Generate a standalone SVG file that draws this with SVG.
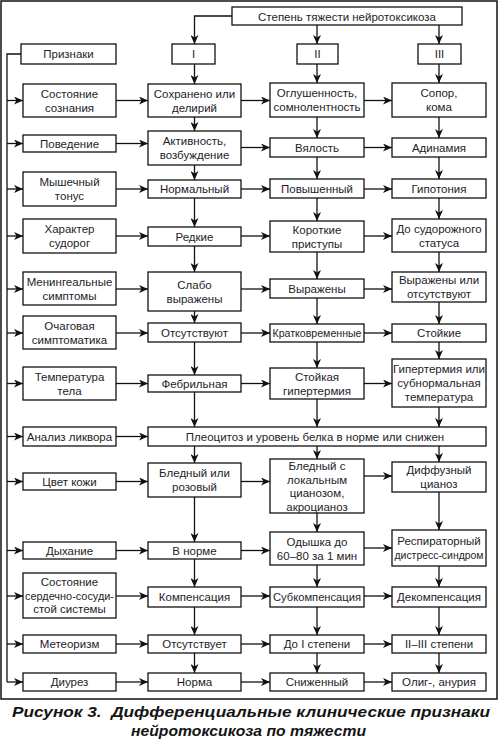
<svg xmlns="http://www.w3.org/2000/svg" width="499" height="740" viewBox="0 0 499 740">
<defs>
<marker id="ah" markerUnits="userSpaceOnUse" markerWidth="9" markerHeight="8" refX="9" refY="4" orient="auto">
<path d="M0,0 L9,4 L0,8 L2.5,4 z" fill="#111"/>
</marker>
<style>
.b{fill:#fff;stroke:#111;stroke-width:1.3}
.t{font-family:"Liberation Sans",Arial,sans-serif;font-size:11.5px;text-anchor:middle;fill:#1d1d28}
.c{fill:none;stroke:#111;stroke-width:1.3}
.a{fill:none;stroke:#111;stroke-width:1.3;marker-end:url(#ah)}
.cap{font-family:"Liberation Sans",Arial,sans-serif;font-size:15.5px;font-weight:bold;font-style:italic;fill:#141414}
</style>
</defs>
<rect x="0" y="0" width="499" height="740" fill="#fff"/>
<rect x="1" y="1" width="496" height="698" fill="none" stroke="#111" stroke-width="1.5"/>

<g id="connectors">
<path class="c" d="M21 54 H7 V682"/>
<path class="a" d="M7 682 H23"/>
<path class="a" d="M232 16 H194.5 V44"/>
<path class="a" d="M317 25 V44"/>
<path class="a" d="M439 25 V44"/>
<path class="a" d="M7 100.5 H23"/>
<path class="a" d="M7 143.5 H23"/>
<path class="a" d="M7 189 H23"/>
<path class="a" d="M7 236 H23"/>
<path class="a" d="M7 289 H23"/>
<path class="a" d="M7 333 H23"/>
<path class="a" d="M7 383.5 H23"/>
<path class="a" d="M7 436.5 H23"/>
<path class="a" d="M7 481.5 H23"/>
<path class="a" d="M7 550.5 H23"/>
<path class="a" d="M7 596 H23"/>
<path class="a" d="M7 644 H23"/>
<path class="a" d="M116 100.5 H148"/><path class="a" d="M241 100.5 H270"/><path class="a" d="M364 100.5 H392"/>
<path class="a" d="M116 143.5 H148"/><path class="a" d="M241 147.5 H270"/><path class="a" d="M364 147.5 H392"/>
<path class="a" d="M116 189 H148"/><path class="a" d="M241 189 H270"/><path class="a" d="M364 189 H392"/>
<path class="a" d="M116 236 H148"/><path class="a" d="M241 236 H270"/><path class="a" d="M364 236 H392"/>
<path class="a" d="M116 289 H148"/><path class="a" d="M241 289 H270"/><path class="a" d="M364 289 H392"/>
<path class="a" d="M116 333 H148"/><path class="a" d="M241 333 H270"/><path class="a" d="M364 333 H392"/>
<path class="a" d="M116 383.5 H148"/><path class="a" d="M241 383.5 H270"/><path class="a" d="M364 383.5 H392"/>
<path class="a" d="M116 436.5 H148"/>
<path class="a" d="M116 481.5 H148"/><path class="a" d="M241 481.5 H270"/><path class="a" d="M364 476 H392"/>
<path class="a" d="M116 550.5 H148"/><path class="a" d="M241 550.5 H270"/><path class="a" d="M364 548 H392"/>
<path class="a" d="M116 596 H148"/><path class="a" d="M241 596 H270"/><path class="a" d="M364 596 H392"/>
<path class="a" d="M116 644 H148"/><path class="a" d="M241 644 H270"/><path class="a" d="M364 644 H392"/>
<path class="a" d="M116 682 H148"/><path class="a" d="M241 682 H270"/><path class="a" d="M364 682 H392"/>
<path class="a" d="M194.5 64 V84"/><path class="a" d="M194.5 117 V131"/><path class="a" d="M194.5 165 V180"/>
<path class="a" d="M194.5 198 V227"/><path class="a" d="M194.5 246 V272"/><path class="a" d="M194.5 311 V323"/>
<path class="a" d="M194.5 342 V375"/><path class="a" d="M194.5 392 V427"/><path class="a" d="M194.5 446 V463"/>
<path class="a" d="M194.5 497 V542"/><path class="a" d="M194.5 559 V587"/><path class="a" d="M194.5 607 V635"/>
<path class="a" d="M194.5 653 V673"/>
<path class="a" d="M317 64 V83"/><path class="a" d="M317 117 V138"/><path class="a" d="M317 157 V179"/>
<path class="a" d="M317 198 V221"/><path class="a" d="M317 252 V279"/><path class="a" d="M317 298 V324"/>
<path class="a" d="M317 342 V368"/><path class="a" d="M317 399 V427"/><path class="a" d="M317 446 V459"/>
<path class="a" d="M317 513 V532"/><path class="a" d="M317 565 V587"/><path class="a" d="M317 607 V635"/>
<path class="a" d="M317 653 V673"/>
<path class="a" d="M439 64 V83"/><path class="a" d="M439 117 V138"/><path class="a" d="M439 157 V179"/>
<path class="a" d="M439 198 V219"/><path class="a" d="M439 252 V272"/><path class="a" d="M439 302 V324"/>
<path class="a" d="M439 342 V359"/><path class="a" d="M439 407 V427"/><path class="a" d="M439 446 V462"/>
<path class="a" d="M439 492 V530"/><path class="a" d="M439 566 V587"/><path class="a" d="M439 607 V635"/>
<path class="a" d="M439 653 V673"/>
</g>

<g id="n-top"><rect class="b" x="232" y="7" width="230" height="18"/><text class="t" x="347" y="20.5">Степень тяжести нейротоксикоза</text></g>
<g id="n-priznaki"><rect class="b" x="21" y="44" width="95" height="20"/><text class="t" x="68.5" y="58">Признаки</text></g>
<g id="n-I"><rect class="b" x="172" y="44" width="43" height="20"/><text class="t" x="193.5" y="58">I</text></g>
<g id="n-II"><rect class="b" x="297" y="44" width="41" height="20"/><text class="t" x="317.5" y="58">II</text></g>
<g id="n-III"><rect class="b" x="418" y="44" width="43" height="20"/><text class="t" x="439.5" y="58">III</text></g>

<g id="l1"><rect class="b" x="23" y="84" width="93" height="33"/><text class="t" x="69.5" y="97.5">Состояние</text><text class="t" x="69.5" y="111.5">сознания</text></g>
<g id="l2"><rect class="b" x="23" y="135" width="93" height="17"/><text class="t" x="69.5" y="147.5">Поведение</text></g>
<g id="l3"><rect class="b" x="23" y="172" width="93" height="34"/><text class="t" x="69.5" y="186">Мышечный</text><text class="t" x="69.5" y="200">тонус</text></g>
<g id="l4"><rect class="b" x="23" y="219" width="93" height="34"/><text class="t" x="69.5" y="233">Характер</text><text class="t" x="69.5" y="247">судорог</text></g>
<g id="l5"><rect class="b" x="23" y="272" width="93" height="33"/><text class="t" x="69.5" y="285.5">Менингеальные</text><text class="t" x="69.5" y="299.5">симптомы</text></g>
<g id="l6"><rect class="b" x="23" y="316" width="93" height="33"/><text class="t" x="69.5" y="329.5">Очаговая</text><text class="t" x="69.5" y="343.5">симптоматика</text></g>
<g id="l7"><rect class="b" x="23" y="367" width="93" height="33"/><text class="t" x="69.5" y="380.5">Температура</text><text class="t" x="69.5" y="394.5">тела</text></g>
<g id="l8"><rect class="b" x="23" y="427" width="93" height="19"/><text class="t" x="69.5" y="440.5">Анализ ликвора</text></g>
<g id="l9"><rect class="b" x="23" y="473" width="93" height="17"/><text class="t" x="69.5" y="485.5">Цвет кожи</text></g>
<g id="l10"><rect class="b" x="23" y="542" width="93" height="17"/><text class="t" x="69.5" y="554.5">Дыхание</text></g>
<g id="l11"><rect class="b" x="23" y="573" width="93" height="45"/><text class="t" x="69.5" y="586">Состояние</text><text class="t" x="69.5" y="599.5" textLength="89" lengthAdjust="spacingAndGlyphs">сердечно-сосуди-</text><text class="t" x="69.5" y="613">стой системы</text></g>
<g id="l12"><rect class="b" x="23" y="635" width="93" height="18"/><text class="t" x="69.5" y="648">Метеоризм</text></g>
<g id="l13"><rect class="b" x="23" y="673" width="93" height="18"/><text class="t" x="69.5" y="686">Диурез</text></g>

<g id="c1-1"><rect class="b" x="148" y="84" width="93" height="33"/><text class="t" x="194.5" y="97.5">Сохранено или</text><text class="t" x="194.5" y="111.5">делирий</text></g>
<g id="c1-2"><rect class="b" x="148" y="131" width="93" height="34"/><text class="t" x="194.5" y="145">Активность,</text><text class="t" x="194.5" y="159">возбуждение</text></g>
<g id="c1-3"><rect class="b" x="148" y="180" width="93" height="18"/><text class="t" x="194.5" y="193">Нормальный</text></g>
<g id="c1-4"><rect class="b" x="148" y="227" width="93" height="19"/><text class="t" x="194.5" y="240.5">Редкие</text></g>
<g id="c1-5"><rect class="b" x="148" y="272" width="93" height="39"/><text class="t" x="194.5" y="288.5">Слабо</text><text class="t" x="194.5" y="302.5">выражены</text></g>
<g id="c1-6"><rect class="b" x="148" y="323" width="93" height="19"/><text class="t" x="194.5" y="337">Отсутствуют</text></g>
<g id="c1-7"><rect class="b" x="148" y="375" width="93" height="17"/><text class="t" x="194.5" y="387.5">Фебрильная</text></g>
<g id="c-8"><rect class="b" x="148" y="427" width="338" height="19"/><text class="t" x="315" y="440.5">Плеоцитоз и уровень белка в норме или снижен</text></g>
<g id="c1-9"><rect class="b" x="148" y="463" width="93" height="34"/><text class="t" x="194.5" y="477">Бледный или</text><text class="t" x="194.5" y="491">розовый</text></g>
<g id="c1-10"><rect class="b" x="148" y="542" width="93" height="17"/><text class="t" x="194.5" y="554.5">В норме</text></g>
<g id="c1-11"><rect class="b" x="148" y="587" width="93" height="20"/><text class="t" x="194.5" y="601">Компенсация</text></g>
<g id="c1-12"><rect class="b" x="148" y="635" width="93" height="18"/><text class="t" x="194.5" y="648">Отсутствует</text></g>
<g id="c1-13"><rect class="b" x="148" y="673" width="93" height="18"/><text class="t" x="194.5" y="686">Норма</text></g>

<g id="c2-1"><rect class="b" x="270" y="83" width="94" height="34"/><text class="t" x="317" y="97">Оглушенность,</text><text class="t" x="317" y="111">сомнолентность</text></g>
<g id="c2-2"><rect class="b" x="270" y="138" width="94" height="19"/><text class="t" x="317" y="151.5">Вялость</text></g>
<g id="c2-3"><rect class="b" x="270" y="179" width="94" height="19"/><text class="t" x="317" y="193">Повышенный</text></g>
<g id="c2-4"><rect class="b" x="270" y="221" width="94" height="31"/><text class="t" x="317" y="233.5">Короткие</text><text class="t" x="317" y="247.5">приступы</text></g>
<g id="c2-5"><rect class="b" x="270" y="279" width="94" height="19"/><text class="t" x="317" y="292.5">Выражены</text></g>
<g id="c2-6"><rect class="b" x="270" y="324" width="94" height="18"/><text class="t" x="317" y="337" textLength="89" lengthAdjust="spacingAndGlyphs">Кратковременные</text></g>
<g id="c2-7"><rect class="b" x="270" y="368" width="94" height="31"/><text class="t" x="317" y="380.5">Стойкая</text><text class="t" x="317" y="394.5">гипертермия</text></g>
<g id="c2-9"><rect class="b" x="270" y="459" width="94" height="54"/><text class="t" x="317" y="470">Бледный с</text><text class="t" x="317" y="483.5">локальным</text><text class="t" x="317" y="497">цианозом,</text><text class="t" x="317" y="510.5">акроцианоз</text></g>
<g id="c2-10"><rect class="b" x="270" y="532" width="94" height="33"/><text class="t" x="317" y="545.5">Одышка до</text><text class="t" x="317" y="559.5">60–80 за 1 мин</text></g>
<g id="c2-11"><rect class="b" x="270" y="587" width="94" height="20"/><text class="t" x="317" y="601" textLength="88" lengthAdjust="spacingAndGlyphs">Субкомпенсация</text></g>
<g id="c2-12"><rect class="b" x="270" y="635" width="94" height="18"/><text class="t" x="317" y="648">До I степени</text></g>
<g id="c2-13"><rect class="b" x="270" y="673" width="94" height="18"/><text class="t" x="317" y="686">Сниженный</text></g>

<g id="c3-1"><rect class="b" x="392" y="83" width="94" height="34"/><text class="t" x="439" y="97">Сопор,</text><text class="t" x="439" y="111">кома</text></g>
<g id="c3-2"><rect class="b" x="392" y="138" width="94" height="19"/><text class="t" x="439" y="151.5">Адинамия</text></g>
<g id="c3-3"><rect class="b" x="392" y="179" width="94" height="19"/><text class="t" x="439" y="193">Гипотония</text></g>
<g id="c3-4"><rect class="b" x="392" y="219" width="94" height="33"/><text class="t" x="439" y="232.5">До судорожного</text><text class="t" x="439" y="246.5">статуса</text></g>
<g id="c3-5"><rect class="b" x="392" y="272" width="94" height="30"/><text class="t" x="439" y="284">Выражены или</text><text class="t" x="439" y="298">отсутствуют</text></g>
<g id="c3-6"><rect class="b" x="392" y="324" width="94" height="18"/><text class="t" x="439" y="337">Стойкие</text></g>
<g id="c3-7"><rect class="b" x="392" y="359" width="94" height="48"/><text class="t" x="439" y="373">Гипертермия или</text><text class="t" x="439" y="387">субнормальная</text><text class="t" x="439" y="401">температура</text></g>
<g id="c3-9"><rect class="b" x="392" y="462" width="94" height="30"/><text class="t" x="439" y="474">Диффузный</text><text class="t" x="439" y="488">цианоз</text></g>
<g id="c3-10"><rect class="b" x="392" y="530" width="94" height="36"/><text class="t" x="439" y="545">Респираторный</text><text class="t" x="439" y="559" textLength="89" lengthAdjust="spacingAndGlyphs">дистресс-синдром</text></g>
<g id="c3-11"><rect class="b" x="392" y="587" width="94" height="20"/><text class="t" x="439" y="601">Декомпенсация</text></g>
<g id="c3-12"><rect class="b" x="392" y="635" width="94" height="18"/><text class="t" x="439" y="648">II–III степени</text></g>
<g id="c3-13"><rect class="b" x="392" y="673" width="94" height="18"/><text class="t" x="439" y="686">Олиг-, анурия</text></g>

<g id="caption">
<text class="cap" x="12" y="717" textLength="478" lengthAdjust="spacingAndGlyphs">Рисунок 3.&#160; Дифференциальные клинические признаки</text>
<text class="cap" x="131" y="736" textLength="235" lengthAdjust="spacingAndGlyphs">нейротоксикоза по тяжести</text>
</g>
</svg>
